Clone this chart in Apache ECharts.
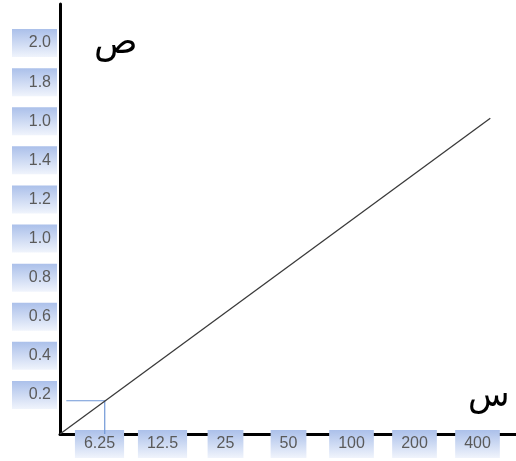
<!DOCTYPE html>
<html>
<head>
<meta charset="utf-8">
<script src="https://cdn.jsdelivr.net/npm/echarts@6/dist/echarts.min.js"></script>
<style>html,body{margin:0;padding:0;background:#fff}#c{width:516px;height:461px}</style>
</head>
<body>
<div id="c"></div>
<script>
// y tick labels, bottom to top (as printed in the original)
const yLabels = ['0.2','0.4','0.6','0.8','1.0','1.2','1.4','1.0','1.8','2.0'];
const xLabels = ['6.25','12.5','25','50','100','200','400'];
const lineData = [[0,0],[6.83,1.615]];
const guideData = [[0.1,0.17],[0.71,0.17],[0.71,0]];
const yName = 'ص';
const xName = 'س';

const chart = echarts.init(document.getElementById('c'));
const grad = () => new echarts.graphic.LinearGradient(0,0,0,1,[
  {offset:0,color:'#abc0ea'},{offset:1,color:'#f0f4fc'}]);

chart.setOption({
  animation:false,
  grid:[
    {left:60,right:0,top:4,bottom:27},
    {left:68,right:7,top:4,bottom:27}
  ],
  xAxis:[
    {type:'value',gridIndex:0,min:0,max:7.238,
     axisLine:{show:true,onZero:false,lineStyle:{color:'#000',width:3}},
     axisTick:{show:false},axisLabel:{show:false},splitLine:{show:false}},
    {type:'category',gridIndex:1,data:xLabels,
     axisLine:{show:false},axisTick:{show:false},splitLine:{show:false},
     axisLabel:{margin:2,interval:0,fontSize:16,
       formatter:v=>'{b|'+v+'}',
       rich:{b:{fontSize:16,color:'#5a5a5a',fontFamily:'Liberation Sans',
         lineHeight:16,padding:[6,9,6,9],backgroundColor:grad(),align:'center'}}}}
  ],
  yAxis:[
    {type:'value',gridIndex:0,min:0,max:2.2,interval:0.2,
     axisLine:{show:true,lineStyle:{color:'#000',width:3}},
     axisTick:{show:false},splitLine:{show:false},
     axisLabel:{margin:3,fontSize:16,
       formatter:v=>{const i=Math.round(v/0.2)-1;return yLabels[i]!==undefined?'{b|'+yLabels[i]+'}':'';},
       rich:{b:{fontSize:16,color:'#5a5a5a',fontFamily:'Liberation Sans',width:38,
         lineHeight:16,padding:[6,6,6,1],backgroundColor:grad(),align:'right'}}}},
    {type:'value',gridIndex:1,show:false}
  ],
  series:[
    {type:'line',xAxisIndex:0,yAxisIndex:0,data:guideData,symbol:'none',
     lineStyle:{color:'#6f97d6',width:1.2}},
    {type:'line',xAxisIndex:0,yAxisIndex:0,data:lineData,symbol:'none',
     lineStyle:{color:'#3a3a3a',width:1.3}},
    {type:'line',xAxisIndex:1,yAxisIndex:1,data:[]}
  ],
  graphic:[
    {type:'text',left:94,top:26,style:{text:yName,fontSize:36,fill:'#000',fontFamily:'DejaVu Sans'}},
    {type:'text',left:468,top:380,style:{text:xName,fontSize:34,fill:'#000',fontFamily:'DejaVu Sans'}}
  ]
});
</script>
</body>
</html>
